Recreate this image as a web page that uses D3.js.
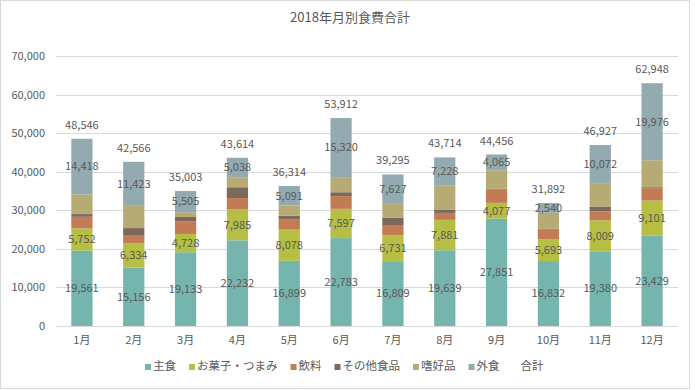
<!DOCTYPE html>
<html lang="ja">
<head>
  <meta charset="UTF-8">
  <title>2018年月別食費合計</title>
  <style>
    body { margin: 0; background: #fff; }
    svg text { font-family: "Noto Sans CJK JP", "Noto Sans", sans-serif; fill: #595959; }
    .grid line { stroke: #d9d9d9; shape-rendering: crispEdges; }
  </style>
</head>
<body>
  <svg id="chart" width="695" height="390"></svg>
  <script src="https://d3js.org/d3.v7.min.js"></script>
  <script>
    // categories and series
    const months = ["1月", "2月", "3月", "4月", "5月", "6月", "7月", "8月", "9月", "10月", "11月", "12月"];
    const shushoku = [19561, 15156, 19133, 22232, 16899, 22783, 16809, 19639, 27851, 16832, 19380, 23429];
    const okashi   = [5752, 6334, 4728, 7985, 8078, 7597, 6731, 7881, 4077, 5693, 8009, 9101];
    const inryo    = [3000, 1900, 3300, 2950, 2600, 3300, 2650, 1800, 3450, 2450, 2300, 3200];
    const sonota   = [700, 2000, 1100, 2800, 1046, 1000, 1850, 750, 260, 200, 1300, 250];
    const shikou   = [5115, 5753, 1237, 2609, 2600, 3912, 3628, 6416, 4753, 4177, 5866, 6992];
    const gaishoku = [14418, 11423, 5505, 5038, 5091, 15320, 7627, 7228, 4065, 2540, 10072, 19976];
    const totals   = [48546, 42566, 35003, 43614, 36314, 53912, 39295, 43714, 44456, 31892, 46927, 62948];
    const yTicks = [0, 10000, 20000, 30000, 40000, 50000, 60000, 70000];

    const series = [
      { name: "主食", values: shushoku, color: "#76b4ae", label: true },
      { name: "お菓子・つまみ", values: okashi, color: "#b6bf43", label: true },
      { name: "飲料", values: inryo, color: "#c27b52", label: false },
      { name: "その他食品", values: sonota, color: "#7b6a5b", label: false },
      { name: "嗜好品", values: shikou, color: "#b7ab75", label: false },
      { name: "外食", values: gaishoku, color: "#93aab0", label: true }
    ];

    const svg = d3.select("#chart");

    // chart frame
    svg.append("rect")
      .attr("x", 0.5).attr("y", 0.5)
      .attr("width", 689).attr("height", 388)
      .attr("fill", "none").attr("stroke", "#d9d9d9");

    // title
    svg.append("text")
      .attr("x", 350).attr("y", 22)
      .attr("text-anchor", "middle")
      .style("font-size", "13px")
      .text("2018年月別食費合計");

    const x = d3.scaleBand()
      .domain(months)
      .range([56, 678])
      .paddingInner(0.59)
      .paddingOuter(0.295);

    const y = d3.scaleLinear()
      .domain([0, 70000])
      .range([326, 56]);

    // gridlines
    svg.append("g")
      .attr("class", "grid")
      .selectAll("line")
      .data(yTicks)
      .join("line")
      .attr("x1", 56).attr("x2", 678)
      .attr("y1", d => Math.round(y(d)) + 0.5)
      .attr("y2", d => Math.round(y(d)) + 0.5);

    // y axis labels
    const yAxis = svg.append("g")
      .attr("transform", "translate(48,0)")
      .call(d3.axisLeft(y).tickValues(yTicks).tickSize(0).tickPadding(3).tickFormat(d3.format(",")));
    yAxis.select(".domain").remove();
    yAxis.selectAll("text").style("font-size", "11px").attr("fill", "#595959");

    // x axis labels
    const xAxis = svg.append("g")
      .attr("transform", "translate(0,333)")
      .call(d3.axisBottom(x).tickSize(0).tickPadding(3));
    xAxis.select(".domain").remove();
    xAxis.selectAll("text").style("font-size", "11px").attr("fill", "#595959");

    // stack data
    const rows = months.map((m, i) => {
      const r = { month: m };
      series.forEach(s => { r[s.name] = s.values[i]; });
      return r;
    });
    const stack = d3.stack().keys(series.map(s => s.name))(rows);

    const layers = svg.append("g")
      .selectAll("g")
      .data(stack)
      .join("g")
      .attr("fill", (d, i) => series[i].color);

    layers.selectAll("rect")
      .data(d => d)
      .join("rect")
      .attr("x", d => x(d.data.month))
      .attr("width", x.bandwidth())
      .attr("y", d => y(d[1]))
      .attr("height", d => y(d[0]) - y(d[1]));

    // segment labels
    stack.forEach((layer, i) => {
      if (!series[i].label) return;
      svg.append("g")
        .selectAll("text")
        .data(layer)
        .join("text")
        .attr("x", d => x(d.data.month) + x.bandwidth() / 2)
        .attr("y", d => (y(d[0]) + y(d[1])) / 2)
        .attr("dy", "0.35em")
        .attr("text-anchor", "middle")
        .style("font-size", "11px")
        .attr("fill", "#404040")
        .text(d => d3.format(",")(d.data[series[i].name]));
    });

    // total labels
    svg.append("g")
      .selectAll("text")
      .data(totals)
      .join("text")
      .attr("x", (d, i) => x(months[i]) + x.bandwidth() / 2)
      .attr("y", d => y(d) - 10)
      .attr("text-anchor", "middle")
      .style("font-size", "11px")
      .attr("fill", "#404040")
      .text(d => d3.format(",")(d));

    // legend
    const legendItems = series.map(s => ({ name: s.name, color: s.color }))
      .concat([{ name: "合計", color: null }]);
    const legend = svg.append("g").attr("transform", "translate(145,370)");
    let lx = 0;
    const items = legend.selectAll("g")
      .data(legendItems)
      .join("g");
    items.append("rect")
      .attr("y", -6)
      .attr("width", 6).attr("height", 6)
      .attr("fill", d => d.color || "none");
    items.append("text")
      .attr("x", 8)
      .attr("y", 0)
      .style("font-size", "11.5px")
      .text(d => d.name);
    items.each(function () {
      const w = d3.select(this).select("text").node().getComputedTextLength();
      d3.select(this).attr("transform", "translate(" + lx + ",0)");
      lx += 8 + w + 13;
    });
  </script>
</body>
</html>
